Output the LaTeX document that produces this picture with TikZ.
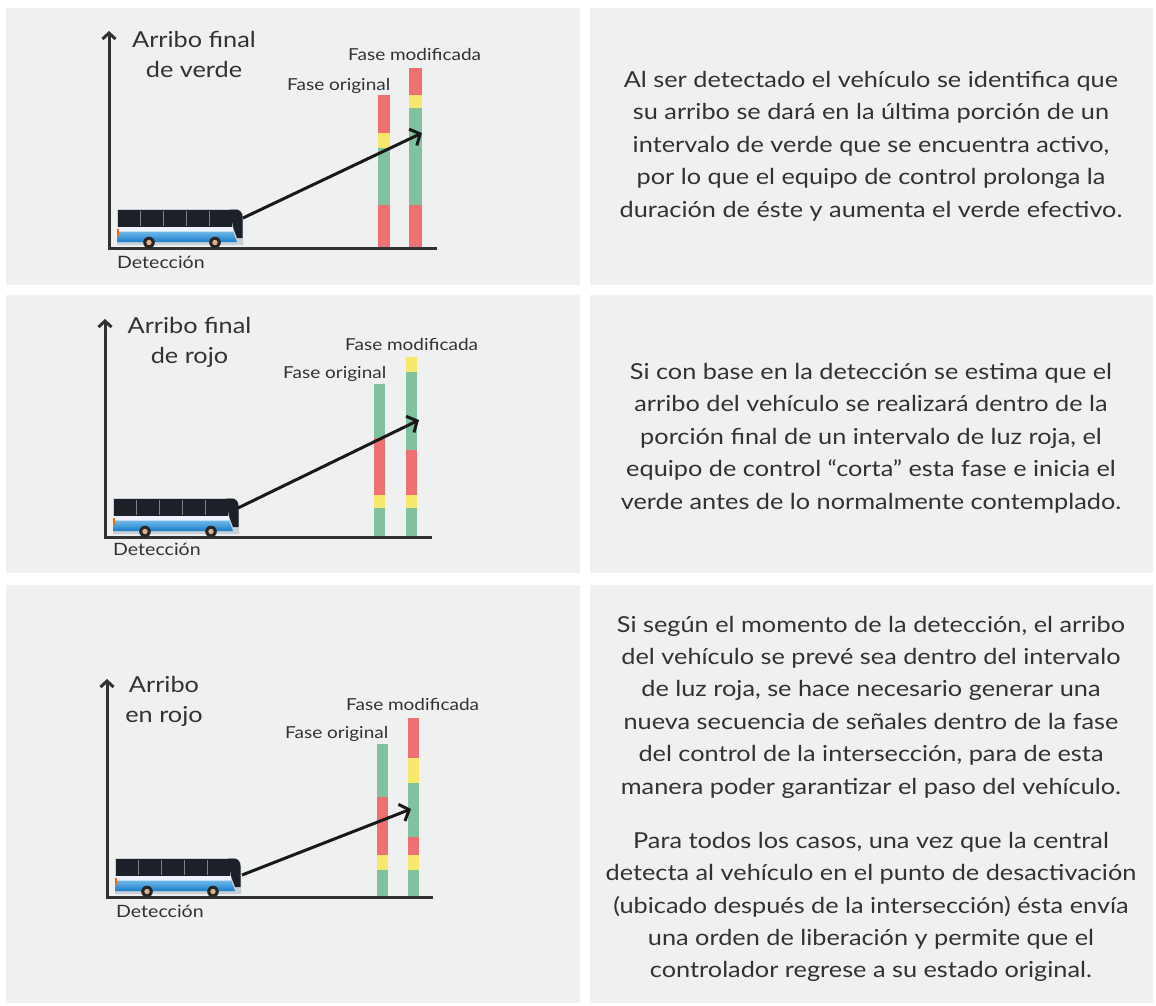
\documentclass[tikz,border=0pt]{standalone}
\usepackage{fontspec}
\setmainfont{Lato}[FakeStretch=1.15]
\usetikzlibrary{arrows.meta}

\definecolor{panel}{RGB}{239,240,240}
\definecolor{ink}{RGB}{50,50,50}
\definecolor{lred}{RGB}{238,112,114}
\definecolor{lyel}{RGB}{246,232,106}
\definecolor{lgrn}{RGB}{128,194,160}
\definecolor{busdark}{RGB}{28,32,40}
\definecolor{busblue}{RGB}{25,125,200}
\definecolor{buslight}{RGB}{110,185,235}
\definecolor{bussilver}{RGB}{200,207,214}
\definecolor{bushub}{RGB}{220,178,140}

\tikzset{
  axisline/.style={line width=3pt, draw=ink, {Straight Barb[length=6pt,width=13pt]}-},
  signal/.style={line width=3pt, draw=black!90, -{Straight Barb[length=8pt,width=18pt]}},
  axislabel/.style={align=center, inner sep=0pt, anchor=north, font=\fontsize{22}{30}\selectfont},
  phaselabel/.style={inner sep=0pt, anchor=base west, font=\fontsize{16.5}{18}\selectfont},
  detlabel/.style={inner sep=0pt, anchor=base west, font=\fontsize{17}{18}\selectfont},
  explain/.style={align=center, inner sep=0pt, font=\fontsize{22}{32.4}\selectfont},
  bus/.pic={
    % silver body with rounded nose
    \fill[bussilver] (0,1) -- (119,1) to[out=0,in=90] (126,9) -- (126,37) -- (0,37) -- cycle;
    % window band
    \fill[busdark] (1,1.5) rectangle (115,19);
    \foreach \w in {23,46,69,92} \draw[black!50, line width=0.7pt] (\w,3) -- (\w,18);
    % windshield
    \fill[busdark] (113,1.5) -- (119,1.5) to[out=0,in=90] (125.5,9) -- (125.5,30) -- (120,30) -- (116,19) -- cycle;
    % white belt line and blue skirt
    \fill[white!94!blue] (0,19) rectangle (116,23.5);
    \shade[top color=buslight, bottom color=busblue] (0,23.5) -- (116,23.5) -- (120,34) -- (0,34) -- cycle;
    % rear light
    \fill[orange!80!red] (0,21) rectangle (2,28);
    % wheels
    \foreach \c in {32,98} {
      \fill[black!85] (\c,34.5) circle (5.8);
      \fill[bushub] (\c,34.5) circle (2.7);
    }
  }
}

\begin{document}
\begin{tikzpicture}[x=1pt,y=-1pt, every node/.style={text=ink}]
\useasboundingbox[fill=white] (0,0) rectangle (1156,1005);

% panel backgrounds
\fill[panel] (6,8)   rectangle (580,285);
\fill[panel] (590,8) rectangle (1153,285);
\fill[panel] (6,295)   rectangle (580,573);
\fill[panel] (590,295) rectangle (1153,573);
\fill[panel] (6,585)   rectangle (580,1003);
\fill[panel] (590,585) rectangle (1153,1003);

% ---------------- row 1: end of green ----------------
% original phase
\fill[lred] (378,95)  rectangle (390,133);
\fill[lyel] (378,133) rectangle (390,148);
\fill[lgrn] (378,148) rectangle (390,205);
\fill[lred] (378,205) rectangle (390,248);
% modified phase
\fill[lred] (409,68)  rectangle (422,95);
\fill[lyel] (409,95)  rectangle (422,108);
\fill[lgrn] (409,108) rectangle (422,205);
\fill[lred] (409,205) rectangle (422,248);

\draw[axisline] (109,31) -- (109,248) -- (437,248);
\pic (bus1) at (117,208) {bus};
\coordinate (d1) at (243,218);
\coordinate (a1) at (422,133);
\draw[signal] (d1) -- (a1);

\node[axislabel] (y1) at (194,31) {Arribo final\\de verde};
\node[phaselabel] (m1) at (348,60) {Fase modificada};
\node[phaselabel] (o1) at (287,90) {Fase original};
\node[detlabel] (det1) at (117,268) {Detección};

\node[explain] (t1) at (871,146) {Al ser detectado el vehículo se identifica que\\
su arribo se dará en la última porción de un\\
intervalo de verde que se encuentra activo,\\
por lo que el equipo de control prolonga la\\
duración de éste y aumenta el verde efectivo.};

% ---------------- row 2: end of red ----------------
\fill[lgrn] (374,384) rectangle (385,438);
\fill[lred] (374,438) rectangle (385,495);
\fill[lyel] (374,495) rectangle (385,508);
\fill[lgrn] (374,508) rectangle (385,537);

\fill[lyel] (406,357) rectangle (417,372);
\fill[lgrn] (406,372) rectangle (417,450);
\fill[lred] (406,450) rectangle (417,495);
\fill[lyel] (406,495) rectangle (417,508);
\fill[lgrn] (406,508) rectangle (417,537);

\draw[axisline] (105,319) -- (105,537) -- (432,537);
\pic (bus2) at (113,497) {bus};
\coordinate (d2) at (238,508);
\coordinate (a2) at (419,420);
\draw[signal] (d2) -- (a2);

\node[axislabel] (y2) at (189.5,317) {Arribo final\\de rojo};
\node[phaselabel] (m2) at (345,350) {Fase modificada};
\node[phaselabel] (o2) at (283,378) {Fase original};
\node[detlabel] (det2) at (113,555) {Detección};

\node[explain] (t2) at (871,438) {Si con base en la detección se estima que el\\
arribo del vehículo se realizará dentro de la\\
porción final de un intervalo de luz roja, el\\
equipo de control “corta” esta fase e inicia el\\
verde antes de lo normalmente contemplado.};

% ---------------- row 3: arrival in red ----------------
\fill[lgrn] (377,744) rectangle (388,797);
\fill[lred] (377,797) rectangle (388,855);
\fill[lyel] (377,855) rectangle (388,870);
\fill[lgrn] (377,870) rectangle (388,897);

\fill[lred] (408,718) rectangle (419,758);
\fill[lyel] (408,758) rectangle (419,783);
\fill[lgrn] (408,783) rectangle (419,837);
\fill[lred] (408,837) rectangle (419,855);
\fill[lyel] (408,855) rectangle (419,870);
\fill[lgrn] (408,870) rectangle (419,897);

\draw[axisline] (107,679) -- (107,897) -- (433,897);
\pic (bus3) at (115,857) {bus};
\coordinate (d3) at (242,875);
\coordinate (a3) at (411,809);
\draw[signal] (d3) -- (a3);

\node[axislabel] (y3) at (164,676) {Arribo\\en rojo};
\node[phaselabel] (m3) at (346,710) {Fase modificada};
\node[phaselabel] (o3) at (285,738) {Fase original};
\node[detlabel] (det3) at (116,917) {Detección};

\node[explain] (t3) at (871,707) {Si según el momento de la detección, el arribo\\
del vehículo se prevé sea dentro del intervalo\\
de luz roja, se hace necesario generar una\\
nueva secuencia de señales dentro de la fase\\
del control de la intersección, para de esta\\
manera poder garantizar el paso del vehículo.};

\node[explain] (t4) at (871,907) {Para todos los casos, una vez que la central\\
detecta al vehículo en el punto de desactivación\\
(ubicado después de la intersección) ésta envía\\
una orden de liberación y permite que el\\
controlador regrese a su estado original.};
\end{tikzpicture}
\end{document}
